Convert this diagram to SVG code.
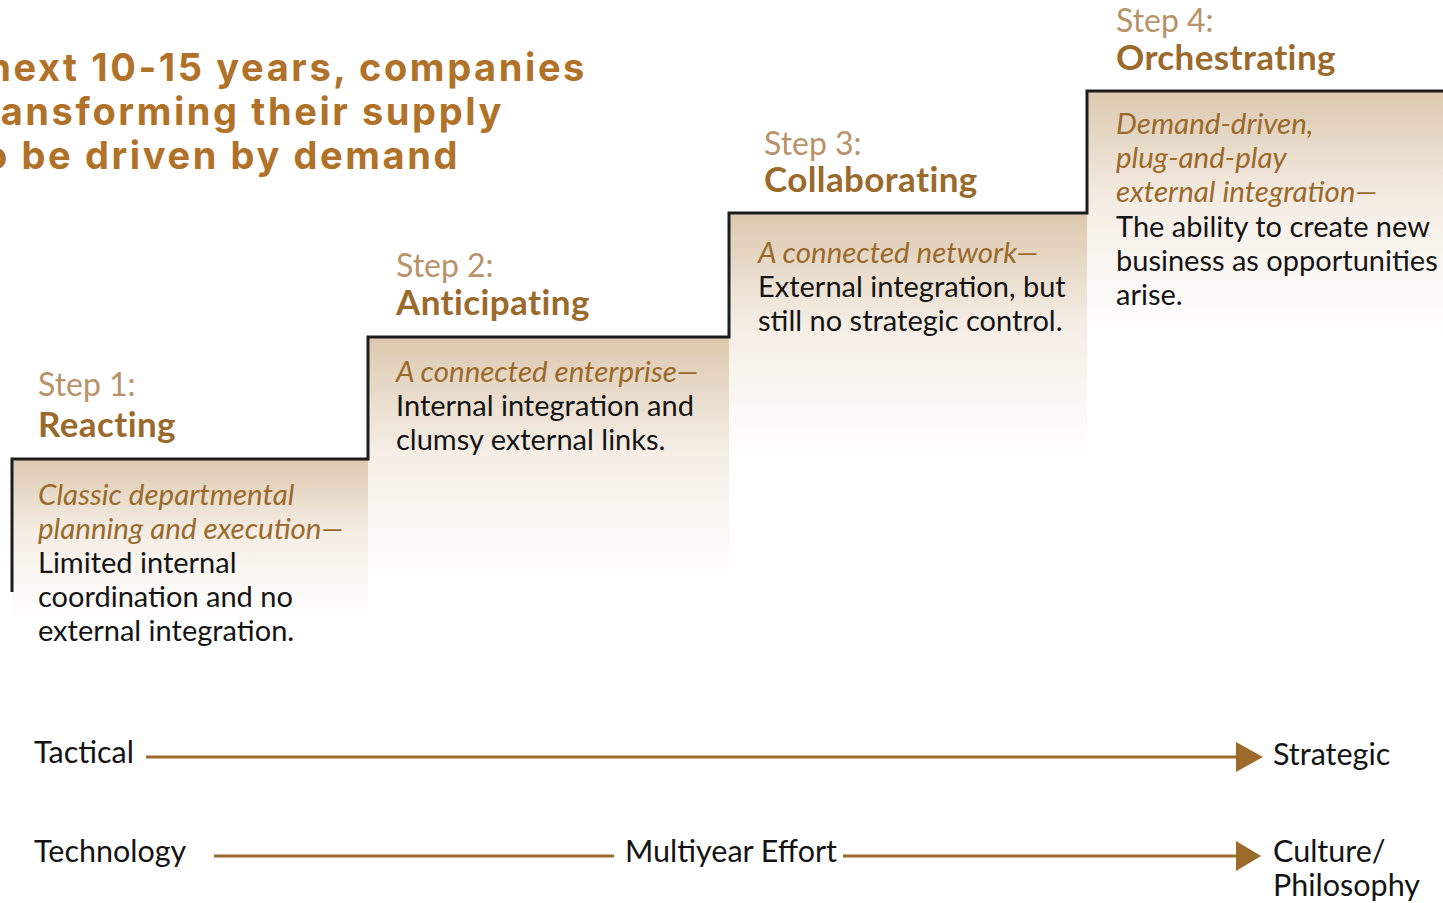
<svg xmlns="http://www.w3.org/2000/svg" width="1443" height="903" viewBox="0 0 1443 903">
<defs>
<linearGradient id="g" x1="0" y1="0" x2="0" y2="1">
<stop offset="0" stop-color="#dcc8ae"/>
<stop offset="0.45" stop-color="#f4ede4"/>
<stop offset="1" stop-color="#ffffff"/>
</linearGradient>
<style>
.head{font-family:Inter,"DejaVu Sans",sans-serif;font-weight:700;font-size:38px;letter-spacing:2.6px;fill:#b07228}
.stp{font-family:Lato,"Open Sans",sans-serif;font-size:32px;fill:#b8936a}
.nm{font-family:Lato,"Open Sans",sans-serif;font-weight:700;font-size:35px;letter-spacing:0.4px;fill:#9a6a2c}
.it{font-family:Lato,"Open Sans",sans-serif;font-style:italic;font-size:29.5px;fill:#9a6a2c}
.bd{font-family:Lato,"Open Sans",sans-serif;font-size:29px;fill:#141414}
.ax{font-family:Lato,"Open Sans",sans-serif;font-size:30.5px;fill:#141414}
.ln{stroke:#9c6a2a;stroke-width:3;fill:none}
</style>
</defs>
<rect width="1443" height="903" fill="#ffffff"/>
<g id="headline">
<text class="head" x="587" y="81" text-anchor="end">next 10-15 years, companies</text>
<text class="head" x="504" y="125" text-anchor="end">transforming their supply</text>
<text class="head" x="460" y="169" text-anchor="end">to be driven by demand</text>
</g>
<g id="fills">
<rect x="12" y="459" width="356" height="160" fill="url(#g)"/>
<rect x="368" y="337" width="361" height="245" fill="url(#g)"/>
<rect x="729" y="213" width="358" height="245" fill="url(#g)"/>
<rect x="1087" y="91" width="356" height="245" fill="url(#g)"/>
</g>
<path id="stairs" d="M12,592 V459 H368 V337 H729 V213 H1087 V91 H1443" fill="none" stroke="#1c1c1c" stroke-width="3"/>
<g id="step1">
<text class="stp" x="38" y="396">Step 1:</text>
<text class="nm" x="38" y="437">Reacting</text>
<text class="it" x="38" y="505">Classic departmental</text>
<text class="it" x="38" y="539">planning and execution—</text>
<text class="bd" x="38" y="573">Limited internal</text>
<text class="bd" x="38" y="607">coordination and no</text>
<text class="bd" x="38" y="641">external integration.</text>
</g>
<g id="step2">
<text class="stp" x="396" y="277">Step 2:</text>
<text class="nm" x="396" y="315">Anticipating</text>
<text class="it" x="396" y="382">A connected enterprise—</text>
<text class="bd" x="396" y="416">Internal integration and</text>
<text class="bd" x="396" y="450">clumsy external links.</text>
</g>
<g id="step3">
<text class="stp" x="764" y="155">Step 3:</text>
<text class="nm" x="764" y="192">Collaborating</text>
<text class="it" x="758" y="263">A connected network—</text>
<text class="bd" x="758" y="297">External integration, but</text>
<text class="bd" x="758" y="331">still no strategic control.</text>
</g>
<g id="step4">
<text class="stp" x="1116" y="32">Step 4:</text>
<text class="nm" x="1116" y="70">Orchestrating</text>
<text class="it" x="1116" y="134">Demand-driven,</text>
<text class="it" x="1116" y="168">plug-and-play</text>
<text class="it" x="1116" y="202">external integration—</text>
<text class="bd" x="1116" y="237">The ability to create new</text>
<text class="bd" x="1116" y="271">business as opportunities</text>
<text class="bd" x="1116" y="305">arise.</text>
</g>
<g id="axis-labels">
<text class="ax" x="34" y="763">Tactical</text>
<text class="ax" x="1273" y="765">Strategic</text>
<text class="ax" x="34" y="862">Technology</text>
<text class="ax" x="625" y="862">Multiyear Effort</text>
<text class="ax" x="1273" y="862">Culture/</text>
<text class="ax" x="1273" y="896">Philosophy</text>
</g>
<g id="connectors">
<line class="ln" x1="146" y1="757" x2="1236" y2="757"/>
<path d="M1236,742 L1263,757 L1236,772 Z" fill="#9c6a2a"/>
<line class="ln" x1="214" y1="856" x2="614" y2="856"/>
<line class="ln" x1="843" y1="856" x2="1236" y2="856"/>
<path d="M1236,841 L1261,856 L1236,871 Z" fill="#9c6a2a"/>
</g>
</svg>
